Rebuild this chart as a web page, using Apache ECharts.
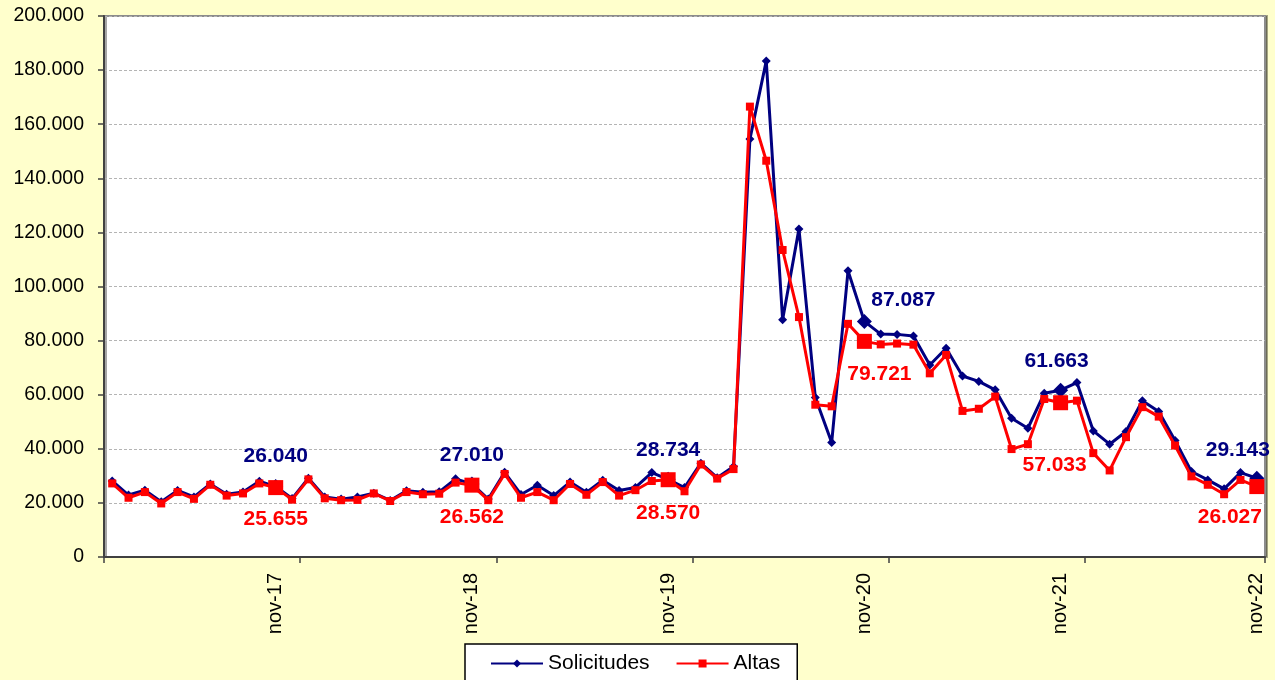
<!DOCTYPE html>
<html>
<head>
<meta charset="utf-8">
<script src="https://cdn.jsdelivr.net/npm/echarts@6/dist/echarts.min.js"></script>
<style>
html,body{margin:0;padding:0;background:#FFFFCC;}
#c{width:1275px;height:680px;}
</style>
</head>
<body>
<div id="c"></div>
<script>
const categories = [
 'ene-17','feb-17','mar-17','abr-17','may-17','jun-17','jul-17','ago-17','sep-17','oct-17','nov-17','dic-17',
 'ene-18','feb-18','mar-18','abr-18','may-18','jun-18','jul-18','ago-18','sep-18','oct-18','nov-18','dic-18',
 'ene-19','feb-19','mar-19','abr-19','may-19','jun-19','jul-19','ago-19','sep-19','oct-19','nov-19','dic-19',
 'ene-20','feb-20','mar-20','abr-20','may-20','jun-20','jul-20','ago-20','sep-20','oct-20','nov-20','dic-20',
 'ene-21','feb-21','mar-21','abr-21','may-21','jun-21','jul-21','ago-21','sep-21','oct-21','nov-21','dic-21',
 'ene-22','feb-22','mar-22','abr-22','may-22','jun-22','jul-22','ago-22','sep-22','oct-22','nov-22'
];
const solicitudes = [
 28100,22900,24700,20400,24600,22200,27000,23200,24000,28000,26040,21600,
 29100,22200,21400,22200,23600,20900,24500,23900,24100,28900,27010,21400,
 31300,23100,26500,22700,27700,23900,28400,24600,25700,31200,28734,25700,
 34700,29300,33500,154500,183400,87700,121300,59000,42300,105800,87087,82400,
 82300,81700,71000,77200,66900,64900,61800,51300,47600,60500,61663,64500,
 46600,41700,46400,57800,53800,43100,31600,28500,25200,31200,29143
];
const altas = [
 27200,21900,24000,19800,24000,21500,26700,22700,23500,27200,25655,21200,
 28700,21700,21000,21100,23500,20700,24000,23200,23400,27500,26562,21000,
 30700,21900,24000,21000,27000,23000,27700,22700,24700,28100,28570,24300,
 34200,29000,32500,166500,146500,113500,88700,56300,55700,86200,79721,78600,
 78900,78500,67900,74700,54000,54800,59300,39900,41700,58400,57033,57800,
 38400,32000,44300,55400,51900,41200,29800,26700,23200,28500,26027
];
const yTicks = [0,20000,40000,60000,80000,100000,120000,140000,160000,180000,200000];
const highlightIdx = [10,22,34,46,58,70];

// label offsets (style only)
const blueOffsets = [[0,-30],[0,-29],[0,-29],[39,-21],[-4,-29],[-19,-28]];
const redOffsets  = [[0,32],[0,32],[0,33],[15,33],[-6,62],[-27,31]];

function fmt(v){ return String(Math.round(v)).replace(/\B(?=(\d{3})+(?!\d))/g,'.'); }

const FF = 'Liberation Sans, Arial, sans-serif';
function build(values, offsets, color){
  return values.map((v,i)=>{
    const k = highlightIdx.indexOf(i);
    if(k<0) return v;
    return {
      value: v,
      symbolSize: 15,
      label: {
        show: true, position: 'inside', offset: offsets[k],
        formatter: p => fmt(p.value),
        color: color, fontWeight: 'bold', fontSize: 21,
        fontFamily: FF
      }
    };
  });
}

const chart = echarts.init(document.getElementById('c'), null, {renderer:'canvas'});
chart.setOption({
  animation: false,
  backgroundColor: '#FFFFCC',
  grid: {
    left: 104, top: 16, right: 10, bottom: 123,
    show: true, backgroundColor: '#FFFFFF', borderColor: '#8c8c8c', borderWidth: 2,
    shadowColor: 'rgba(0,0,0,0.35)', shadowOffsetX: 2, shadowOffsetY: 0, shadowBlur: 0
  },
  legend: {
    left: 465, top: 644,
    data: ['Solicitudes','Altas'],
    itemWidth: 52, itemHeight: 10, itemGap: 26,
    padding: [9, 17, 20, 25],
    backgroundColor: '#FFFFFF', borderColor: '#000000', borderWidth: 1.5,
    textStyle: {fontSize: 21, color: '#000', fontFamily: FF}
  },
  xAxis: {
    type: 'category',
    data: categories,
    boundaryGap: true,
    axisLine: {show: true, lineStyle: {color: '#404040', width: 2}},
    axisTick: {show: true, length: 6, interval: (i)=> i % 12 === 0 && i < categories.length, lineStyle: {color: '#404040', width: 1.5}},
    axisLabel: {
      interval: (i, v) => v.indexOf('nov') === 0,
      rotate: 90, margin: 16, fontSize: 20, color: '#000', fontFamily: FF
    },
    splitLine: {show: false}
  },
  yAxis: {
    type: 'value',
    min: yTicks[0], max: yTicks[yTicks.length-1], interval: yTicks[1]-yTicks[0],
    axisLine: {show: true, lineStyle: {color: '#404040', width: 2}},
    axisTick: {show: true, length: 6, lineStyle: {color: '#404040', width: 1.5}},
    axisLabel: {margin: 20, fontSize: 19.5, color: '#000', fontFamily: FF, formatter: v => fmt(v)},
    splitLine: {show: true, lineStyle: {color: '#b4b4b4', width: 1, type: [3,2]}}
  },
  series: [
    {
      name: 'Solicitudes', type: 'line',
      data: build(solicitudes, blueOffsets, '#000080'),
      symbol: 'diamond', symbolSize: 9,
      showSymbol: true, showAllSymbol: true,
      lineStyle: {color: '#000080', width: 3},
      itemStyle: {color: '#000080'},
      z: 2
    },
    {
      name: 'Altas', type: 'line',
      data: build(altas, redOffsets, '#FF0000'),
      symbol: 'rect', symbolSize: 8,
      showSymbol: true, showAllSymbol: true,
      lineStyle: {color: '#FF0000', width: 3},
      itemStyle: {color: '#FF0000'},
      z: 3
    }
  ]
});
</script>
</body>
</html>
